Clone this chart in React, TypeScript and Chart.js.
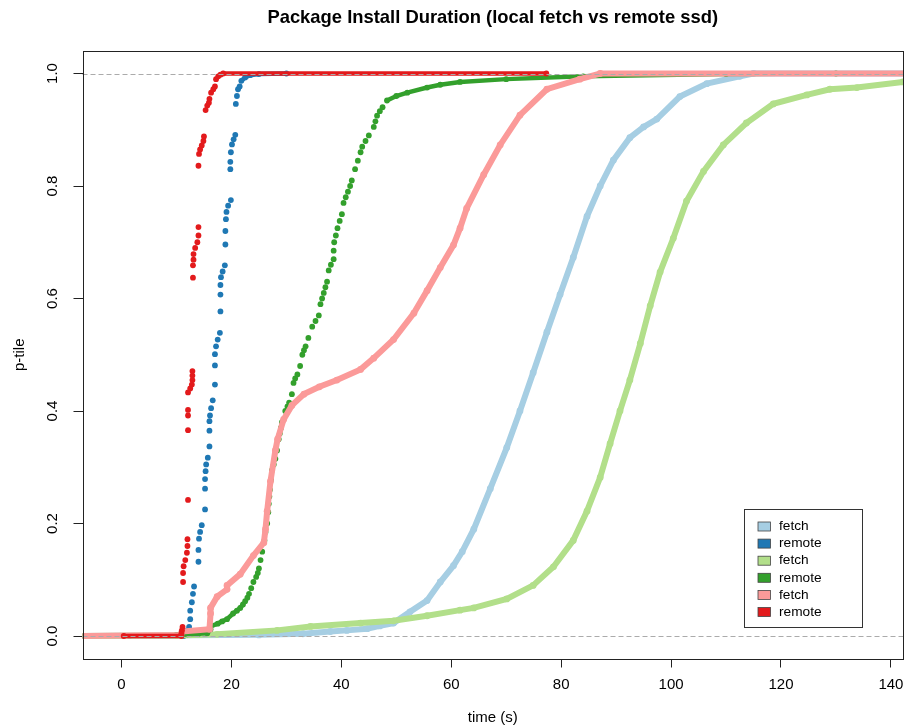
import React, { useEffect, useRef } from 'react';
import { Chart, registerables } from 'chart.js';

Chart.register(...registerables);

const FONT = '"Liberation Sans", Arial, Helvetica, sans-serif';

const chartTitle = 'Package Install Duration (local fetch vs remote ssd)';
const xAxisTitle = 'time (s)';
const yAxisTitle = 'p-tile';
const xTicks = [0, 20, 40, 60, 80, 100, 120, 140];
const yTicks = [0, 0.2, 0.4, 0.6, 0.8, 1.0];
const yTickLabels = ['0.0', '0.2', '0.4', '0.6', '0.8', '1.0'];
const refLines = [0, 1];

const seriesLabels = ['fetch', 'remote', 'fetch', 'remote', 'fetch', 'remote'];
const seriesColors = ['#A6CEE3', '#1F78B4', '#B2DF8A', '#33A02C', '#FB9A99', '#E31A1C'];

// light blue "fetch"
const fetchBlueX = [-8, 25, 33, 38, 41, 44.7, 47, 49.5, 52.5, 55.6, 58, 60.4, 62, 64.1, 67.1, 70.1, 72.5, 74.9, 77.4, 79.8, 82.2, 84.7, 87.1, 89.5, 92.5, 95, 97.4, 101.6, 106.5, 112.5, 115, 150];
const fetchBlueY = [0, 0.002, 0.004, 0.008, 0.01, 0.013, 0.018, 0.023, 0.043, 0.063, 0.096, 0.125, 0.15, 0.19, 0.262, 0.335, 0.4, 0.468, 0.54, 0.607, 0.673, 0.746, 0.8, 0.846, 0.886, 0.905, 0.919, 0.959, 0.982, 0.995, 1.0, 1.0];

// dark blue "remote"
const remoteBlueX = [1.5, 11.3, 11.5, 12.0, 12.3, 12.5, 12.5, 12.8, 13.0, 13.2, 14.0, 14.0, 14.1, 14.3, 14.6, 15.2, 15.2, 15.2, 15.3, 15.4, 15.7, 16.0, 16.0, 16.0, 16.1, 16.3, 16.6, 17.0, 17.0, 17.0, 17.2, 17.5, 17.9, 18.0, 18.0, 18.0, 18.1, 18.4, 18.8, 18.9, 18.9, 19.0, 19.1, 19.4, 19.9, 19.8, 19.8, 19.9, 20.1, 20.4, 20.7, 20.8, 21.0, 21.2, 21.5, 21.8, 22.5, 23.4, 25, 30];
const remoteBlueY = [0, 0, 0.004, 0.01, 0.016, 0.03, 0.045, 0.06, 0.075, 0.088, 0.132, 0.153, 0.173, 0.185, 0.197, 0.225, 0.262, 0.279, 0.293, 0.305, 0.317, 0.337, 0.365, 0.382, 0.392, 0.405, 0.419, 0.447, 0.481, 0.501, 0.515, 0.527, 0.539, 0.577, 0.607, 0.624, 0.638, 0.648, 0.659, 0.696, 0.72, 0.741, 0.754, 0.765, 0.775, 0.83, 0.843, 0.86, 0.874, 0.883, 0.891, 0.946, 0.96, 0.972, 0.977, 0.987, 0.993, 0.997, 0.999, 1.0];

// light green "fetch"
const fetchGreenX = [-8, 10, 17.4, 28.3, 34.4, 43.5, 49.5, 55.6, 61.6, 64.1, 70.1, 74.9, 78.6, 82.2, 84.7, 87.1, 88.9, 90.7, 92.5, 94.4, 96.2, 98, 100.4, 102.8, 105.9, 109.5, 113.7, 118.6, 124.7, 128.9, 133.8, 142.2, 150];
const fetchGreenY = [0, 0.001, 0.003, 0.01, 0.017, 0.023, 0.027, 0.036, 0.046, 0.05, 0.066, 0.09, 0.123, 0.17, 0.222, 0.282, 0.342, 0.4, 0.455, 0.52, 0.587, 0.647, 0.707, 0.773, 0.826, 0.873, 0.912, 0.946, 0.962, 0.972, 0.975, 0.985, 0.986];

// green "remote"
const remoteGreenX = [-8, 10.0, 12, 14, 15.6, 16.2, 16.2, 17.5, 18.3, 19.2, 20.3, 21.0, 21.6, 22.1, 22.5, 22.9, 23.2, 23.6, 24, 24.5, 24.8, 25, 25.3, 25.6, 26, 26.2, 26.5, 26.7, 26.8, 26.9, 27, 27.2, 27.4, 27.7, 28, 28.3, 28.6, 28.8, 29.0, 29.2, 29.8, 30.2, 30.5, 31, 31.3, 31.6, 32, 32.5, 32.9, 33.2, 33.5, 34, 34.7, 35.3, 35.9, 36.2, 36.5, 36.8, 37.1, 37.4, 37.7, 38.1, 38.6, 38.6, 38.7, 39, 39.3, 39.7, 40.1, 40.4, 40.8, 41.2, 41.6, 41.9, 42.5, 43, 43.5, 43.8, 44.4, 45, 45.9, 46.2, 46.5, 47, 47.5, 48.3, 50, 52, 55.6, 58, 61.6, 70, 84, 110, 130];
const remoteGreenY = [0, 0.002, 0.003, 0.004, 0.005, 0.012, 0.017, 0.022, 0.026, 0.03, 0.04, 0.045, 0.05, 0.056, 0.062, 0.068, 0.075, 0.085, 0.096, 0.105, 0.112, 0.12, 0.135, 0.15, 0.17, 0.185, 0.2, 0.22, 0.235, 0.248, 0.26, 0.278, 0.295, 0.305, 0.315, 0.33, 0.35, 0.36, 0.37, 0.38, 0.4, 0.408, 0.415, 0.43, 0.45, 0.458, 0.465, 0.48, 0.5, 0.508, 0.515, 0.53, 0.55, 0.56, 0.57, 0.59, 0.6, 0.61, 0.62, 0.63, 0.65, 0.66, 0.67, 0.685, 0.7, 0.712, 0.725, 0.738, 0.75, 0.77, 0.78, 0.79, 0.8, 0.81, 0.83, 0.845, 0.86, 0.87, 0.88, 0.89, 0.905, 0.915, 0.925, 0.933, 0.94, 0.952, 0.96, 0.966, 0.975, 0.98, 0.985, 0.99, 0.995, 0.999, 1.0];

// pink "fetch"
const fetchRedX = [-8, 10.8, 11.0, 16.0, 16.2, 16.2, 17.4, 19.2, 19.2, 21.6, 24, 25.9, 26.2, 26.5, 27.1, 28, 28.4, 29.5, 31, 33.2, 36, 39.2, 43.5, 45.9, 49.5, 53.2, 55.6, 58, 60.4, 61.6, 62.8, 65.9, 68.9, 72.5, 77.4, 83.4, 87.1, 150];
const fetchRedY = [0, 0.002, 0.008, 0.012, 0.04, 0.05, 0.07, 0.083, 0.09, 0.11, 0.143, 0.166, 0.19, 0.222, 0.275, 0.33, 0.35, 0.385, 0.41, 0.43, 0.443, 0.455, 0.474, 0.494, 0.527, 0.574, 0.614, 0.655, 0.695, 0.725, 0.76, 0.82, 0.873, 0.926, 0.972, 0.99, 1.0, 1.0];

// red "remote"
const remoteRedX = [0.4, 10.9, 10.9, 11.0, 11.1, 11.2, 11.2, 11.3, 11.6, 11.9, 12.0, 12.0, 12.1, 12.1, 12.1, 12.1, 12.1, 12.5, 12.8, 12.9, 12.9, 12.9, 13.0, 13.0, 13.1, 13.1, 13.4, 13.8, 14.0, 14.0, 14.0, 14.1, 14.3, 14.6, 14.9, 15.0, 15.3, 15.6, 15.9, 16.0, 16.3, 16.7, 17.0, 17.2, 17.6, 18.0, 18.5, 77.3];
const remoteRedY = [0, 0, 0.005, 0.01, 0.016, 0.096, 0.112, 0.124, 0.135, 0.148, 0.16, 0.172, 0.242, 0.366, 0.392, 0.402, 0.433, 0.44, 0.447, 0.455, 0.463, 0.471, 0.637, 0.659, 0.669, 0.679, 0.69, 0.7, 0.712, 0.727, 0.836, 0.857, 0.865, 0.872, 0.88, 0.888, 0.935, 0.943, 0.948, 0.955, 0.966, 0.972, 0.977, 0.99, 0.995, 0.998, 1.0, 1.0];

const toPoints = (xs: number[], ys: number[]) => xs.map((x, i) => ({ x, y: ys[i] }));

function fetchDataset(label: string, color: string, xs: number[], ys: number[], order: number) {
  return {
    label,
    data: toPoints(xs, ys),
    showLine: true,
    borderColor: color,
    backgroundColor: color,
    borderWidth: 6,
    pointRadius: 3.4,
    pointBorderWidth: 0,
    pointBackgroundColor: color,
    pointHoverRadius: 3.4,
    tension: 0,
    clip: 0,
    order,
  };
}

function remoteDataset(label: string, color: string, xs: number[], ys: number[], order: number) {
  return {
    label,
    data: toPoints(xs, ys),
    showLine: true,
    borderColor: color,
    backgroundColor: color,
    borderWidth: 4.5,
    pointRadius: 2.9,
    pointBorderWidth: 0,
    pointBackgroundColor: color,
    pointHoverRadius: 2.9,
    tension: 0,
    clip: 0,
    order,
    segment: {
      borderColor: (c: any) => {
        const dx = c.p1.parsed.x - c.p0.parsed.x;
        const dy = c.p1.parsed.y - c.p0.parsed.y;
        return dy > 0.004 && dy > 0.012 * Math.max(dx, 0.0001) ? 'rgba(0,0,0,0)' : color;
      },
    },
  };
}

const overlayPlugin = {
  id: 'rOverlay',
  afterDatasetsDraw(chart: any) {
    const { ctx, chartArea: a } = chart;
    const ys = chart.scales.y;
    ctx.save();
    ctx.strokeStyle = '#ababab';
    ctx.lineWidth = 1;
    ctx.setLineDash([5, 3]);
    refLines.forEach((v) => {
      const py = Math.round(ys.getPixelForValue(v)) + 0.5;
      ctx.beginPath();
      ctx.moveTo(a.left, py);
      ctx.lineTo(a.right, py);
      ctx.stroke();
    });
    ctx.restore();
  },
  afterDraw(chart: any) {
    const { ctx, chartArea: a } = chart;
    const ys = chart.scales.y;
    ctx.save();
    // box
    ctx.strokeStyle = '#222';
    ctx.lineWidth = 1;
    ctx.setLineDash([]);
    ctx.strokeRect(Math.round(a.left) + 0.5, Math.round(a.top) + 0.5, Math.round(a.right - a.left) - 1, Math.round(a.bottom - a.top));
    // y tick labels (rotated, like R)
    ctx.fillStyle = '#000';
    ctx.font = `15px ${FONT}`;
    ctx.textAlign = 'center';
    ctx.textBaseline = 'middle';
    yTicks.forEach((v, i) => {
      ctx.save();
      ctx.translate(53, ys.getPixelForValue(v));
      ctx.rotate(-Math.PI / 2);
      ctx.fillText(yTickLabels[i], 0, 0);
      ctx.restore();
    });
    // title
    ctx.font = `bold 18.4px ${FONT}`;
    ctx.fillText(chartTitle, (a.left + a.right) / 2, 18);
    // legend
    const w = 119;
    const h = 119;
    const lx = Math.round(a.right - 40 - w);
    const ly = Math.round(a.bottom - 31 - h);
    ctx.fillStyle = '#fff';
    ctx.fillRect(lx, ly, w, h);
    ctx.strokeStyle = '#333';
    ctx.strokeRect(lx + 0.5, ly + 0.5, w - 1, h - 1);
    ctx.font = `13.7px ${FONT}`;
    ctx.textAlign = 'left';
    seriesLabels.forEach((lab, i) => {
      const cy = ly + 17.5 + i * 17.1;
      ctx.fillStyle = seriesColors[i];
      ctx.fillRect(lx + 14, cy - 4.5, 12.5, 9);
      ctx.strokeStyle = '#444';
      ctx.lineWidth = 0.8;
      ctx.strokeRect(lx + 14, cy - 4.5, 12.5, 9);
      ctx.fillStyle = '#000';
      ctx.fillText(lab, lx + 35, cy);
    });
    ctx.restore();
  },
};

export default function App() {
  const ref = useRef<HTMLCanvasElement>(null);
  useEffect(() => {
    if (!ref.current) return;
    const datasets = [
      remoteDataset(seriesLabels[5], seriesColors[5], remoteRedX, remoteRedY, 0),
      fetchDataset(seriesLabels[4], seriesColors[4], fetchRedX, fetchRedY, 1),
      remoteDataset(seriesLabels[3], seriesColors[3], remoteGreenX, remoteGreenY, 2),
      fetchDataset(seriesLabels[2], seriesColors[2], fetchGreenX, fetchGreenY, 3),
      remoteDataset(seriesLabels[1], seriesColors[1], remoteBlueX, remoteBlueY, 4),
      fetchDataset(seriesLabels[0], seriesColors[0], fetchBlueX, fetchBlueY, 5),
    ];
    const chart = new Chart(ref.current, {
      type: 'scatter',
      data: { datasets } as any,
      options: {
        responsive: false,
        animation: false,
        devicePixelRatio: 1,
        events: [],
        layout: { padding: { top: 51, right: 4, left: 0, bottom: 0 } },
        plugins: {
          legend: { display: false },
          title: { display: false },
          tooltip: { enabled: false },
        },
        scales: {
          x: {
            type: 'linear',
            position: 'bottom',
            min: -7.1,
            max: 142.2,
            afterBuildTicks: (s: any) => {
              s.ticks = xTicks.map((v) => ({ value: v }));
            },
            afterFit: (s: any) => {
              s.height = 68.5;
              s.paddingLeft = 0;
              s.paddingRight = 0;
            },
            grid: { drawOnChartArea: false, drawTicks: true, tickLength: 9, color: '#222', lineWidth: 1 },
            border: { display: false },
            ticks: { color: '#000', font: { family: FONT, size: 15 }, padding: 8, maxRotation: 0, autoSkip: false },
            title: { display: true, text: xAxisTitle, color: '#000', font: { family: FONT, size: 15 }, padding: 0 },
          },
          y: {
            type: 'linear',
            min: -0.04,
            max: 1.04,
            afterBuildTicks: (s: any) => {
              s.ticks = yTicks.map((v) => ({ value: v }));
            },
            afterFit: (s: any) => {
              s.width = 82.5;
              s.paddingTop = 0;
              s.paddingBottom = 0;
            },
            grid: { drawOnChartArea: false, drawTicks: true, tickLength: 9, color: '#222', lineWidth: 1 },
            border: { display: false },
            ticks: { display: false },
            title: { display: true, text: yAxisTitle, color: '#000', font: { family: FONT, size: 15 }, padding: { top: 11, bottom: 0 } },
          },
        },
      } as any,
      plugins: [overlayPlugin],
    });
    return () => chart.destroy();
  }, []);
  return (
    <div style={{ position: 'fixed', left: 0, top: 0, width: 907, height: 727, background: '#fff' }}>
      <canvas ref={ref} width={907} height={727} style={{ width: 907, height: 727, display: 'block' }} />
    </div>
  );
}
